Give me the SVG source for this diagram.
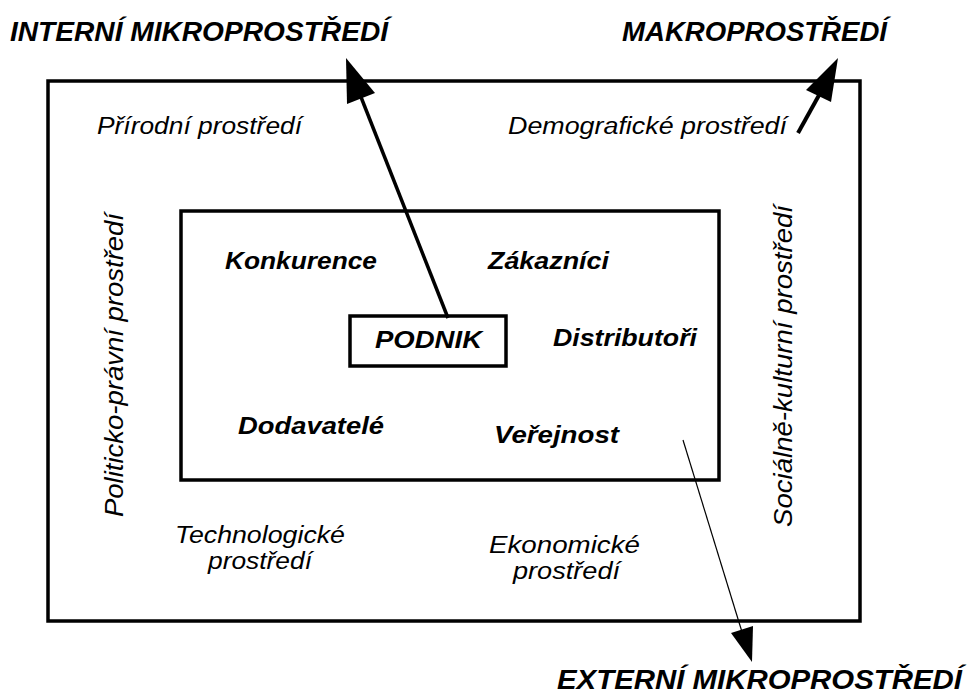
<svg xmlns="http://www.w3.org/2000/svg" width="972" height="697" viewBox="0 0 972 697">
  <style>
    .frame { fill: none; stroke: #000; stroke-width: 3.5; }
    .t { font-family: "Liberation Sans", Arial, sans-serif; font-style: italic; fill: #000; }
    .title { font-size: 27px; font-weight: bold; }
    .env { font-size: 23px; }
    .vert { font-size: 26px; }
    .actor { font-size: 23px; font-weight: bold; }
    .head { fill: #000; stroke: none; }
  </style>
  <rect width="972" height="697" fill="#fff"/>

  <!-- headings -->
  <g id="heading-internal"><text class="t title" x="10" y="41" textLength="378" lengthAdjust="spacingAndGlyphs">INTERNÍ MIKROPROSTŘEDÍ</text></g>
  <g id="heading-macro"><text class="t title" x="622" y="41" textLength="265" lengthAdjust="spacingAndGlyphs">MAKROPROSTŘEDÍ</text></g>
  <g id="heading-external"><text class="t title" x="557" y="689" textLength="405" lengthAdjust="spacingAndGlyphs">EXTERNÍ MIKROPROSTŘEDÍ</text></g>

  <!-- macro environment -->
  <g id="macro">
    <rect class="frame" x="48" y="81" width="812" height="540"/>
    <text class="t env" x="97" y="134" textLength="205" lengthAdjust="spacingAndGlyphs">Přírodní prostředí</text>
    <text class="t env" x="508" y="134" textLength="279" lengthAdjust="spacingAndGlyphs">Demografické prostředí</text>
    <text class="t vert" transform="translate(123 517) rotate(-90)" textLength="304" lengthAdjust="spacingAndGlyphs">Politicko-právní prostředí</text>
    <text class="t vert" transform="translate(792 527) rotate(-90)" textLength="322" lengthAdjust="spacingAndGlyphs">Sociálně-kulturní prostředí</text>
    <text class="t env" x="175" y="543" textLength="170" lengthAdjust="spacingAndGlyphs">Technologické</text>
    <text class="t env" x="208" y="569" textLength="104" lengthAdjust="spacingAndGlyphs">prostředí</text>
    <text class="t env" x="489" y="553" textLength="151" lengthAdjust="spacingAndGlyphs">Ekonomické</text>
    <text class="t env" x="513" y="579" textLength="107" lengthAdjust="spacingAndGlyphs">prostředí</text>
  </g>

  <!-- micro environment -->
  <g id="micro">
    <rect class="frame" x="181" y="211" width="538" height="269"/>
    <text class="t actor" x="225" y="269" textLength="152" lengthAdjust="spacingAndGlyphs">Konkurence</text>
    <text class="t actor" x="488" y="269" textLength="121" lengthAdjust="spacingAndGlyphs">Zákazníci</text>
    <text class="t actor" x="553" y="346" textLength="144" lengthAdjust="spacingAndGlyphs">Distributoři</text>
    <text class="t actor" x="238" y="434" textLength="146" lengthAdjust="spacingAndGlyphs">Dodavatelé</text>
    <text class="t actor" x="494" y="443" textLength="125" lengthAdjust="spacingAndGlyphs">Veřejnost</text>
  </g>

  <!-- company -->
  <g id="podnik">
    <rect class="frame" x="350" y="316" width="156" height="50"/>
    <text class="t actor" x="375" y="348" textLength="107" lengthAdjust="spacingAndGlyphs">PODNIK</text>
  </g>

  <!-- connectors -->
  <g id="connectors">
    <line x1="448" y1="318" x2="359" y2="92" stroke="#000" stroke-width="3.5"/>
    <polygon class="head" points="346,58 347,104 375,93"/>
    <line x1="798" y1="133" x2="823" y2="88" stroke="#000" stroke-width="4"/>
    <polygon class="head" points="838,58 806,90 831,102"/>
    <line x1="683" y1="440" x2="742" y2="632" stroke="#000" stroke-width="1.2"/>
    <polygon class="head" points="752,662 731,633 753,626"/>
  </g>
</svg>
